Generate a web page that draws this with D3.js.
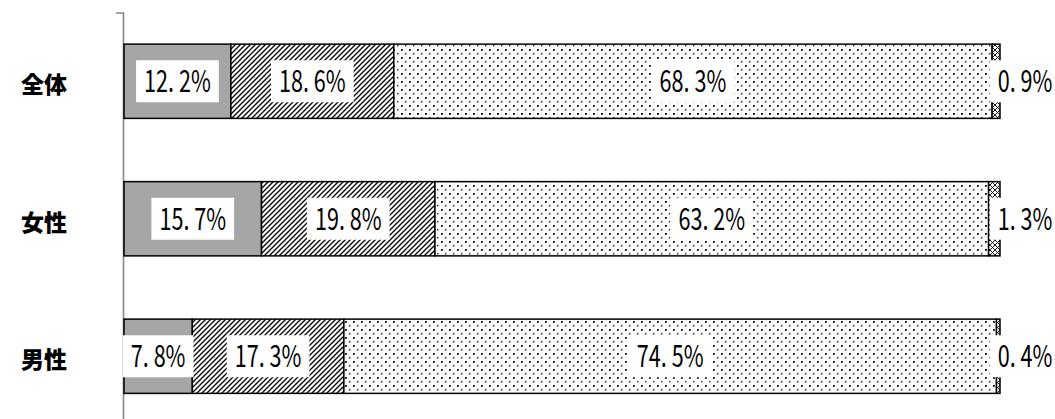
<!DOCTYPE html>
<html>
<head>
<meta charset="utf-8">
<script src="https://cdn.jsdelivr.net/npm/d3@7"></script>
<style>
  body { margin: 0; background: #fff; }
  svg { display: block; }
</style>
</head>
<body>
<div id="chart"></div>
<script>
// data
const categories = ["全体", "女性", "男性"];
const keys = ["a", "b", "c", "d"];
const valuesA = [12.2, 15.7, 7.8];
const valuesB = [18.6, 19.8, 17.3];
const valuesC = [68.3, 63.2, 74.5];
const valuesD = [0.9, 1.3, 0.4];

const width = 1055, height = 419;

const rows = categories.map((c, i) => ({
    cat: c, a: valuesA[i], b: valuesB[i], c: valuesC[i], d: valuesD[i]
}));

const svg = d3.select("#chart").append("svg")
    .attr("width", width)
    .attr("height", height);

// fill patterns
const defs = svg.append("defs");

const hatch = defs.append("pattern")
    .attr("id", "hatch")
    .attr("patternUnits", "userSpaceOnUse")
    .attr("width", 5).attr("height", 5);
hatch.append("rect").attr("width", 5).attr("height", 5).attr("fill", "#fff");
hatch.append("path")
    .attr("d", "M-1,1 l2,-2 M0,5 l5,-5 M4,6 l2,-2")
    .attr("stroke", "#000").attr("stroke-width", 1.3);

const dots = defs.append("pattern")
    .attr("id", "dots")
    .attr("patternUnits", "userSpaceOnUse")
    .attr("width", 8).attr("height", 8);
dots.append("rect").attr("width", 8).attr("height", 8).attr("fill", "#fff");
dots.append("rect").attr("x", 1).attr("y", 1).attr("width", 1.8).attr("height", 1.8).attr("fill", "#000");
dots.append("rect").attr("x", 5).attr("y", 5).attr("width", 1.4).attr("height", 1.4).attr("fill", "#222");

const cross = defs.append("pattern")
    .attr("id", "cross")
    .attr("patternUnits", "userSpaceOnUse")
    .attr("width", 5).attr("height", 5);
cross.append("rect").attr("width", 5).attr("height", 5).attr("fill", "#fff");
cross.append("path")
    .attr("d", "M0,0 L5,5 M5,0 L0,5")
    .attr("stroke", "#000").attr("stroke-width", 0.9);

const fills = { a: "#a6a6a6", b: "url(#hatch)", c: "url(#dots)", d: "url(#cross)" };

// scales
const x = d3.scaleLinear().domain([0, 100]).range([124, 1000]);
const y = d3.scaleBand()
    .domain(categories)
    .range([12.5, 425])
    .paddingInner(0.46)
    .paddingOuter(0.23);

const stacked = d3.stack().keys(keys)(rows);

// axis line on the left
svg.append("g")
    .attr("transform", "translate(123,0)")
    .call(d3.axisLeft(y).tickSizeInner(0).tickSizeOuter(7).tickFormat(""))
    .call(g => g.select(".domain").attr("stroke", "#868686").attr("stroke-width", 1.6));

// bars
const layer = svg.append("g").selectAll("g")
    .data(stacked)
    .join("g")
    .attr("fill", d => fills[d.key]);

layer.selectAll("rect")
    .data(d => d)
    .join("rect")
    .attr("x", d => x(d[0]))
    .attr("y", d => y(d.data.cat))
    .attr("width", d => x(d[1]) - x(d[0]))
    .attr("height", y.bandwidth())
    .attr("stroke", "#000")
    .attr("stroke-width", 1.5);

// value labels with white boxes
const fmt = v => d3.format(".1f")(v).replace(".", ". ") + "%";
const labels = [];
stacked.forEach(s => {
    s.forEach(d => {
        const v = d[1] - d[0];
        const cx = s.key === "d" ? x(100) + 25 : (x(d[0]) + x(d[1])) / 2;
        labels.push({ cx, cy: y(d.data.cat) + y.bandwidth() / 2, text: fmt(v) });
    });
});

const sx = 0.72;
const lab = svg.append("g").selectAll("g")
    .data(labels)
    .join("g")
    .attr("transform", d => `translate(${d.cx},${d.cy})`);

const bg = lab.append("rect").attr("fill", "#fff");
lab.append("text")
    .attr("transform", `scale(${sx},1)`)
    .attr("text-anchor", "middle")
    .attr("dy", "0.36em")
    .style("font-family", "'Noto Sans CJK JP', sans-serif")
    .style("font-size", "30px")
    .attr("fill", "#000")
    .text(d => d.text);

lab.each(function() {
    const w = d3.select(this).select("text").node().getComputedTextLength() * sx;
    d3.select(this).select("rect")
        .attr("x", -w / 2 - 8)
        .attr("y", -21)
        .attr("width", w + 16)
        .attr("height", 42);
});

// category labels
svg.append("g").selectAll("text")
    .data(categories)
    .join("text")
    .attr("x", 44)
    .attr("y", d => y(d) + y.bandwidth() / 2 + 4)
    .attr("text-anchor", "middle")
    .attr("dy", "0.35em")
    .style("font-family", "'Noto Sans CJK JP', sans-serif")
    .style("font-size", "23px")
    .style("font-weight", "900")
    .text(d => d);
</script>
</body>
</html>
